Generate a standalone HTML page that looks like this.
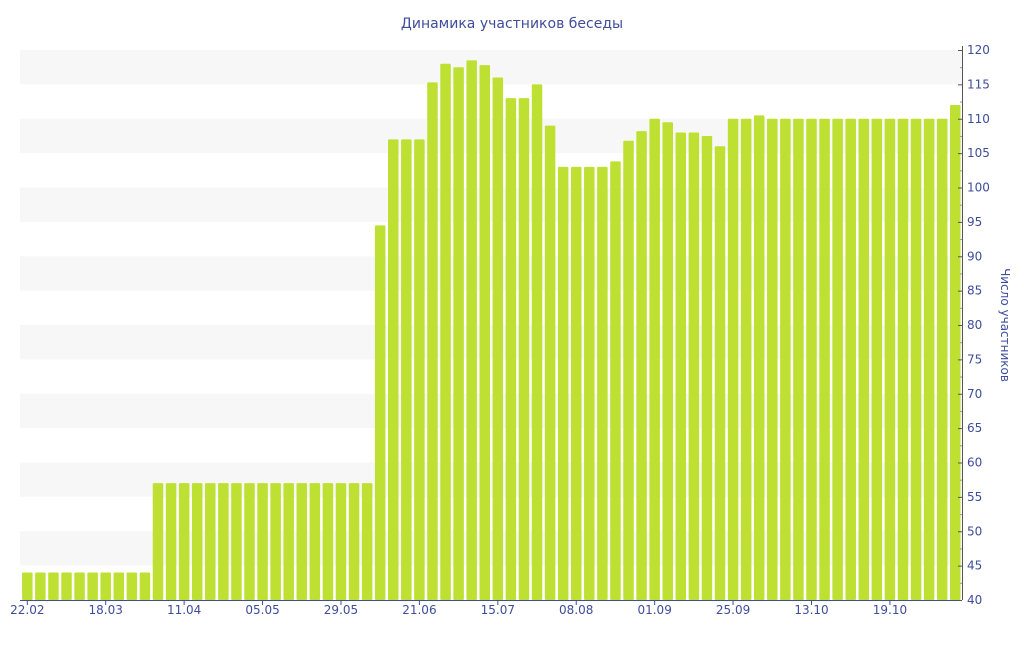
<!DOCTYPE html>
<html><head><meta charset="utf-8"><style>
body{margin:0;background:#fff;font-family:"Liberation Sans","DejaVu Sans",sans-serif}
svg text{font-family:"DejaVu Sans","Liberation Sans",sans-serif;fill:#3e4d9c}
</style></head><body>
<svg id="c" width="1024" height="640" xmlns="http://www.w3.org/2000/svg">
<text x="512" y="28" text-anchor="middle" font-size="14">Динамика участников беседы</text>
<text transform="translate(1001,325) rotate(90)" text-anchor="middle" font-size="12">Число участников</text>
</svg>
<script>
const values=[44,44,44,44,44,44,44,44,44,44,
57,57,57,57,57,57,57,57,57,57,57,57,57,57,57,57,57,
94.5,107,107,107,
115.3,118,117.5,118.5,117.8,116,113,113,115,109,
103,103,103,103,103.8,106.8,108.2,110,109.5,108,108,107.5,106,
110,110,110.5,
110,110,110,110,110,110,110,
110,110,110,110,110,110,110,
112];
const tickLabels=["22.02","18.03","11.04","05.05","29.05","21.06","15.07","08.08","01.09","25.09","13.10","19.10"];
const yTicks=[40,45,50,55,60,65,70,75,80,85,90,95,100,105,110,115,120];
const NS="http://www.w3.org/2000/svg",svg=document.getElementById('c');
const x0=20,x1=962,yTop=50,yBot=600,vmin=40,vmax=120;
const step=13.07,bw=10.5;
function y(v){return yBot-(v-vmin)/(vmax-vmin)*(yBot-yTop);}
function xc(i){return 27.3+i*step;}
function mk(t,a){const e=document.createElementNS(NS,t);for(const k in a)e.setAttribute(k,a[k]);svg.appendChild(e);return e;}
for(let v=45;v<120;v+=10){
 const r=mk('rect',{x:x0,y:y(v+5),width:x1-x0,height:y(v)-y(v+5),fill:'#f7f7f7'});
 
 
}
values.forEach((v,i)=>{
 const r=mk('rect',{x:xc(i)-bw/2,y:y(v),width:bw,height:yBot-y(v),fill:'#bde032',rx:1});
 
 
});
let ax=mk('line',{x1:x0,y1:yBot+0.5,x2:x1,y2:yBot+0.5,stroke:'#3e4d9c','stroke-width':1});


tickLabels.forEach((l,k)=>{
 const xx=xc(k*6);
 mk('line',{x1:xx,y1:yBot,x2:xx,y2:yBot+5,stroke:'#3e4d9c'});
 const t=mk('text',{x:xx,y:614,'text-anchor':'middle','font-size':12});t.textContent=l;
 
 
});
let ay=mk('line',{x1:x1+0.5,y1:yTop-4,x2:x1+0.5,y2:yBot,stroke:'#555','stroke-width':1});


yTicks.forEach(v=>{
 mk('line',{x1:x1-4,y1:y(v)+0.5,x2:x1,y2:y(v)+0.5,stroke:'#555'});
 if(v<120)mk('line',{x1:x1-2,y1:y(v+2.5)+0.5,x2:x1,y2:y(v+2.5)+0.5,stroke:'#999'});
 const t=mk('text',{x:967,y:y(v)+4,'font-size':12});t.textContent=v;
 
 
});
</script>
</body></html>
